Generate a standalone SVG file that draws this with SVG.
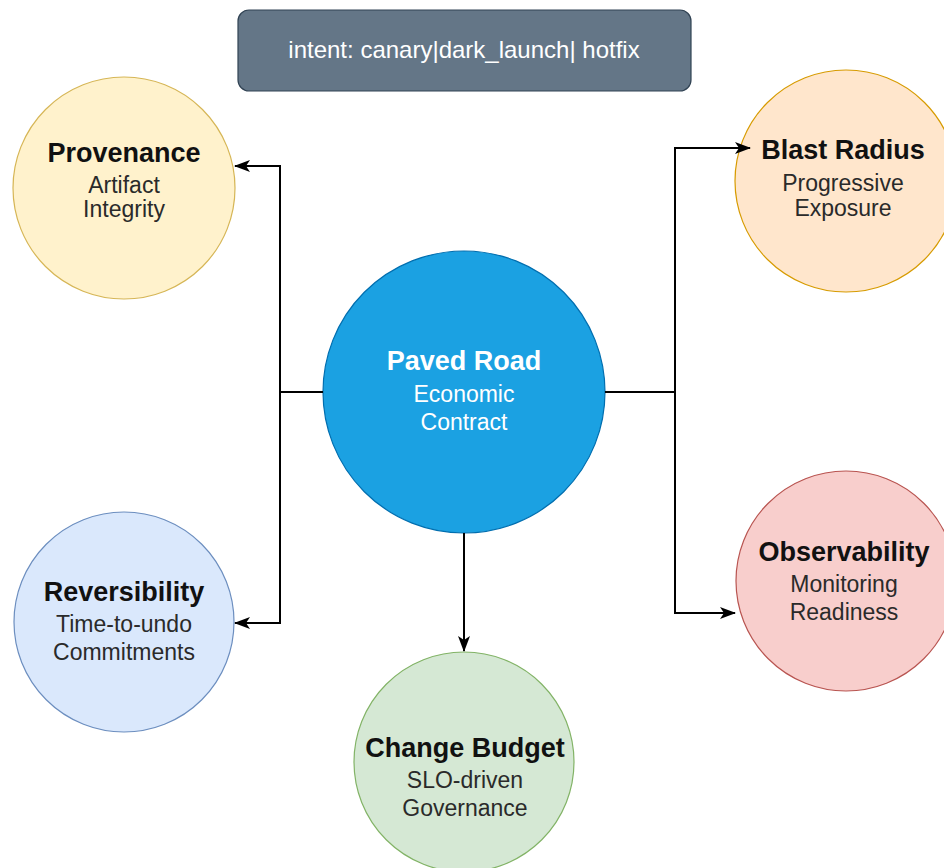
<svg xmlns="http://www.w3.org/2000/svg" width="944" height="868" viewBox="0 0 944 868">
  <style>
    text { font-family: "Liberation Sans", Arial, sans-serif; text-anchor: middle; }
    .title { font-size: 27px; font-weight: bold; fill: #111111; }
    .sub { font-size: 23px; fill: #2a2a2a; }
    .light .title, .light .sub { fill: #ffffff; }
    .wire { fill: none; stroke: #000000; stroke-width: 2; }
    .node { stroke-width: 1.2; }
  </style>
  <defs>
    <marker id="arrow" viewBox="0 0 16 12" refX="15" refY="6" markerWidth="16" markerHeight="12" markerUnits="userSpaceOnUse" orient="auto">
      <path d="M0,0 L16,6 L0,12 L4,6 Z" fill="#000000"/>
    </marker>
  </defs>

  <rect width="944" height="868" fill="#ffffff"/>

  <!-- release intent banner -->
  <g id="intent">
    <rect x="238" y="10" width="453" height="81" rx="11" fill="#647687" stroke="#314354" stroke-width="1.2"/>
    <text x="464" y="58" style="font-size:24px; fill:#ffffff;">intent: canary|dark_launch| hotfix</text>
  </g>

  <g id="provenance">
    <circle class="node" cx="124" cy="188" r="111" fill="#fff2cc" stroke="#d6b656"/>
    <text class="title" x="124" y="162">Provenance</text>
    <text class="sub" x="124" y="193">Artifact</text>
    <text class="sub" x="124" y="217">Integrity</text>
  </g>

  <g id="blast-radius">
    <circle class="node" cx="846" cy="181" r="111" fill="#ffe6cc" stroke="#d79b00"/>
    <text class="title" x="843" y="159">Blast Radius</text>
    <text class="sub" x="843" y="191">Progressive</text>
    <text class="sub" x="843" y="216">Exposure</text>
  </g>

  <g id="paved-road" class="light">
    <circle class="node" cx="464" cy="392" r="141" fill="#1ba1e2" stroke="#006eaf"/>
    <text class="title" x="464" y="370">Paved Road</text>
    <text class="sub" x="464" y="402">Economic</text>
    <text class="sub" x="464" y="430">Contract</text>
  </g>

  <g id="reversibility">
    <circle class="node" cx="124" cy="622" r="110" fill="#dae8fc" stroke="#6c8ebf"/>
    <text class="title" x="124" y="601">Reversibility</text>
    <text class="sub" x="124" y="632">Time-to-undo</text>
    <text class="sub" x="124" y="660">Commitments</text>
  </g>

  <g id="observability">
    <circle class="node" cx="846" cy="581" r="110" fill="#f8cecc" stroke="#b85450"/>
    <text class="title" x="844" y="561">Observability</text>
    <text class="sub" x="844" y="592">Monitoring</text>
    <text class="sub" x="844" y="620">Readiness</text>
  </g>

  <g id="change-budget">
    <circle class="node" cx="464" cy="762" r="110" fill="#d5e8d4" stroke="#82b366"/>
    <text class="title" x="465" y="757">Change Budget</text>
    <text class="sub" x="465" y="788">SLO-driven</text>
    <text class="sub" x="465" y="816">Governance</text>
  </g>

  <!-- connectors, drawn last so arrowheads sit above the circles -->
  <g id="connectors">
    <path class="wire" d="M323,392 L280,392"/>
    <path class="wire" d="M280,392 L280,166 L235,166" marker-end="url(#arrow)"/>
    <path class="wire" d="M280,392 L280,623 L235,623" marker-end="url(#arrow)"/>
    <path class="wire" d="M605,392 L675,392"/>
    <path class="wire" d="M675,392 L675,148 L750,148" marker-end="url(#arrow)"/>
    <path class="wire" d="M675,392 L675,613 L735,613" marker-end="url(#arrow)"/>
    <path class="wire" d="M464,533 L464,651" marker-end="url(#arrow)"/>
  </g>
</svg>
